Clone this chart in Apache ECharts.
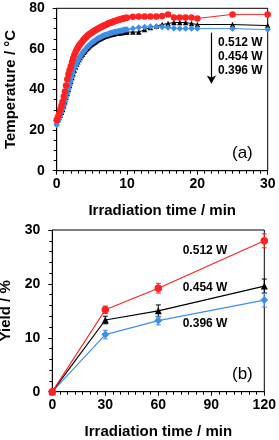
<!DOCTYPE html>
<html><head><meta charset="utf-8">
<script src="https://cdn.jsdelivr.net/npm/echarts@6/dist/echarts.min.js"></script>
<style>html,body{margin:0;padding:0;background:#fff}#c{width:279px;height:440px}</style>
</head><body><div id="c"></div>
<script>
// ---- Panel (a): temperature vs irradiation time ----
var tempTimes = [0,0.17,0.33,0.5,0.67,0.83,1,1.17,1.33,1.5,1.67,1.83,2,2.17,2.33,2.5,2.67,2.83,3,3.17,3.33,3.5,3.67,3.83,4,4.17,4.33,4.5,4.67,4.83,5,5.17,5.33,5.5,5.67,5.83,6,6.17,6.33,6.5,6.67,6.83,7,7.17,7.33,7.5,7.67,7.83,8,8.17,8.33,8.5,8.67,8.83,9,9.17,9.33,9.5,9.67,9.83,10,
  10.83,11.67,12.5,13.33,14.17,15,15.83,16.67,17.5,18.33,19.17,20,25,30];
var temp512 = [25,26.5,28,30,32,34,36.5,39,42,45,47.5,49.5,51.5,53.5,55.3,57,58.4,59.6,60.6,61.5,62.3,63,63.8,64.5,65.2,65.8,66.3,66.8,67.3,67.7,68.1,68.5,68.9,69.2,69.5,69.9,70.2,70.5,70.8,71.1,71.4,71.6,71.9,72.2,72.5,72.7,72.9,73.1,73.4,73.6,73.8,74,74.2,74.4,74.5,74.7,74.9,75,75.1,75.3,75.4,
  75.8,76,76,76,76,76.2,77,75.5,75.5,75.5,75.5,75,77,77];
var temp454 = [24,25,26.2,27.5,28.8,30.3,32,34,36,38,40,42,44,45.9,47.7,49.5,51.1,52.5,53.7,54.8,55.8,56.7,57.5,58.3,59,59.7,60.3,60.9,61.5,62,62.4,62.9,63.3,63.7,64.1,64.5,64.8,65.1,65.4,65.7,66,66.2,66.4,66.6,66.8,67,67.1,67.3,67.4,67.5,67.7,67.8,67.9,67.9,68,68.1,68.1,68.2,68.2,68.3,68.3,
  68.3,68.3,69.5,70.5,71.3,72,72.5,73,73,73,72.5,72,72,71.5];
var temp396 = [22.5,24.2,25.5,27,28.7,30.3,32,34,36,38,40,42,44,46,48,50,51.6,52.9,54.2,55.3,56.3,57.2,58,58.8,59.5,60.2,60.8,61.4,62,62.5,63,63.5,63.9,64.3,64.7,65.1,65.4,65.7,66,66.3,66.6,66.8,67,67.2,67.4,67.6,67.8,68,68.1,68.3,68.4,68.5,68.6,68.8,68.9,69,69.1,69.3,69.4,69.5,69.6,
  70,70.5,70.8,71,71,70.8,70.5,70.2,70,70,70,70,70,69.5];
var tempTicks = [0,20,40,60,80];
var timeTicksA = [0,10,20,30];

// ---- Panel (b): yield vs irradiation time ----
var yieldTimes = [0,30,60,120];
var yield512 = [0,15.2,19.2,28.0];
var yield454 = [0,13.3,15.0,19.6];
var yield396 = [0,10.6,13.2,17.0];
var err512 = [0,0.7,0.9,1.3];
var err454 = [0,0.7,1.1,1.3];
var err396 = [0,0.8,0.8,1.3];
var yieldTicks = [0,10,20,30];
var timeTicksB = [0,30,60,90,120];

var powerLabels = ['0.512 W','0.454 W','0.396 W'];
var panelLabels = ['(a)','(b)'];

var RED = '#ff2222', BLK = '#000000', BLU = '#3d8fe8';
var FONT = 'Liberation Sans, Arial, sans-serif';

function pairs(xs, ys){ return xs.map(function(x,i){return [x, ys[i]];}); }
function errData(xs, ys, es){ return xs.map(function(x,i){return [x, ys[i]-es[i], ys[i]+es[i]];}); }

function axisCommon(){
  return {
    axisLine:{show:true,lineStyle:{color:'#000',width:1}},
    axisTick:{show:true,inside:false,length:4,lineStyle:{color:'#000',width:1}},
    splitLine:{show:false},
    nameTextStyle:{color:'#000',fontFamily:FONT,fontWeight:'bold',fontSize:15},
    nameLocation:'middle'
  };
}
function merge(a,b){ for (var k in b) a[k]=b[k]; return a; }
function lbl(m){ return {color:'#000',fontFamily:FONT,fontWeight:'bold',fontSize:14,margin:m}; }
function minor(n){ return {show:true,splitNumber:n,length:3,lineStyle:{color:'#000',width:1}}; }

function errSeries(data, color, xi){
  return {
    type:'custom', xAxisIndex:xi, yAxisIndex:xi, z:1,
    data:data, silent:true,
    renderItem:function(params, api){
      var x = api.value(0), lo = api.value(1), hi = api.value(2);
      var p1 = api.coord([x, lo]), p2 = api.coord([x, hi]);
      var w = 2.5;
      var st = {stroke:color, lineWidth:1};
      return {type:'group', children:[
        {type:'line', shape:{x1:p1[0],y1:p1[1],x2:p2[0],y2:p2[1]}, style:st},
        {type:'line', shape:{x1:p1[0]-w,y1:p1[1],x2:p1[0]+w,y2:p1[1]}, style:st},
        {type:'line', shape:{x1:p2[0]-w,y1:p2[1],x2:p2[0]+w,y2:p2[1]}, style:st}
      ]};
    }
  };
}

var chart = echarts.init(document.getElementById('c'), null, {renderer:'canvas'});
var option = {
  animation:false,
  backgroundColor:'#fff',
  grid:[
    {left:56.7, right:11.3, top:8.3, height:162.4, show:true, borderColor:'#000', borderWidth:1, containLabel:false, outerBoundsMode:'none'},
    {left:52.3, right:14.7, top:230, height:161.7, show:true, borderColor:'#000', borderWidth:1, containLabel:false, outerBoundsMode:'none'}
  ],
  xAxis:[
    merge(axisCommon(), {type:'value', gridIndex:0, min:timeTicksA[0], max:timeTicksA[timeTicksA.length-1], interval:10,
      name:'Irradiation time / min', nameGap:33, minorTick:minor(10), axisLabel:lbl(6)}),
    merge(axisCommon(), {type:'value', gridIndex:1, min:timeTicksB[0], max:timeTicksB[timeTicksB.length-1], interval:30,
      name:'Irradiation time / min', nameGap:33, minorTick:minor(7), axisLabel:lbl(6)})
  ],
  yAxis:[
    merge(axisCommon(), {type:'value', gridIndex:0, min:tempTicks[0], max:tempTicks[tempTicks.length-1], interval:20,
      name:'Temperature / °C', nameGap:38, minorTick:minor(4), axisLabel:lbl(12)}),
    merge(axisCommon(), {type:'value', gridIndex:1, min:yieldTicks[0], max:yieldTicks[yieldTicks.length-1], interval:10,
      name:'Yield / %', nameGap:34, minorTick:minor(5), axisLabel:lbl(12)})
  ],
  series:[
    {type:'line', xAxisIndex:0, yAxisIndex:0, data:pairs(tempTimes,temp454), symbol:'triangle', symbolSize:5.5,
      showAllSymbol:true, lineStyle:{color:BLK,width:1}, itemStyle:{color:BLK}, z:2},
    {type:'line', xAxisIndex:0, yAxisIndex:0, data:pairs(tempTimes,temp396), symbol:'diamond', symbolSize:6.5,
      showAllSymbol:true, lineStyle:{color:BLU,width:1}, itemStyle:{color:BLU}, z:3},
    {type:'line', xAxisIndex:0, yAxisIndex:0, data:pairs(tempTimes,temp512), symbol:'circle', symbolSize:6.5,
      showAllSymbol:true, lineStyle:{color:RED,width:1}, itemStyle:{color:RED}, z:4,
      markLine:{silent:true, symbol:['none','arrow'], symbolSize:[7,8], label:{show:false},
        lineStyle:{color:'#000',width:1.2,type:'solid'},
        data:[[{coord:[22,68]},{coord:[22,43]}]]}},
    errSeries(errData(yieldTimes,yield512,err512), RED, 1),
    errSeries(errData(yieldTimes,yield454,err454), BLK, 1),
    errSeries(errData(yieldTimes,yield396,err396), BLU, 1),
    {type:'line', xAxisIndex:1, yAxisIndex:1, data:pairs(yieldTimes,yield396), symbol:'diamond', symbolSize:8,
      lineStyle:{color:BLU,width:1.2}, itemStyle:{color:BLU}, z:3},
    {type:'line', xAxisIndex:1, yAxisIndex:1, data:pairs(yieldTimes,yield454), symbol:'triangle', symbolSize:7,
      lineStyle:{color:BLK,width:1.2}, itemStyle:{color:BLK}, z:3},
    {type:'line', xAxisIndex:1, yAxisIndex:1, data:pairs(yieldTimes,yield512), symbol:'circle', symbolSize:7.5,
      lineStyle:{color:RED,width:1.2}, itemStyle:{color:RED}, z:4}
  ],
  graphic:[
    {type:'text', left:218, top:37, style:{text:powerLabels[0], font:'bold 12px '+FONT, fill:'#000'}},
    {type:'text', left:218, top:51, style:{text:powerLabels[1], font:'bold 12px '+FONT, fill:'#000'}},
    {type:'text', left:218, top:65, style:{text:powerLabels[2], font:'bold 12px '+FONT, fill:'#000'}},
    {type:'text', left:232, top:145, style:{text:panelLabels[0], font:'17px '+FONT, fill:'#000'}},
    {type:'text', left:182.7, top:245, style:{text:powerLabels[0], font:'bold 12px '+FONT, fill:'#000'}},
    {type:'text', left:182.7, top:282, style:{text:powerLabels[1], font:'bold 12px '+FONT, fill:'#000'}},
    {type:'text', left:182.7, top:318, style:{text:powerLabels[2], font:'bold 12px '+FONT, fill:'#000'}},
    {type:'text', left:232, top:366, style:{text:panelLabels[1], font:'17px '+FONT, fill:'#000'}}
  ]
};
chart.setOption(option);
</script>
</body></html>
